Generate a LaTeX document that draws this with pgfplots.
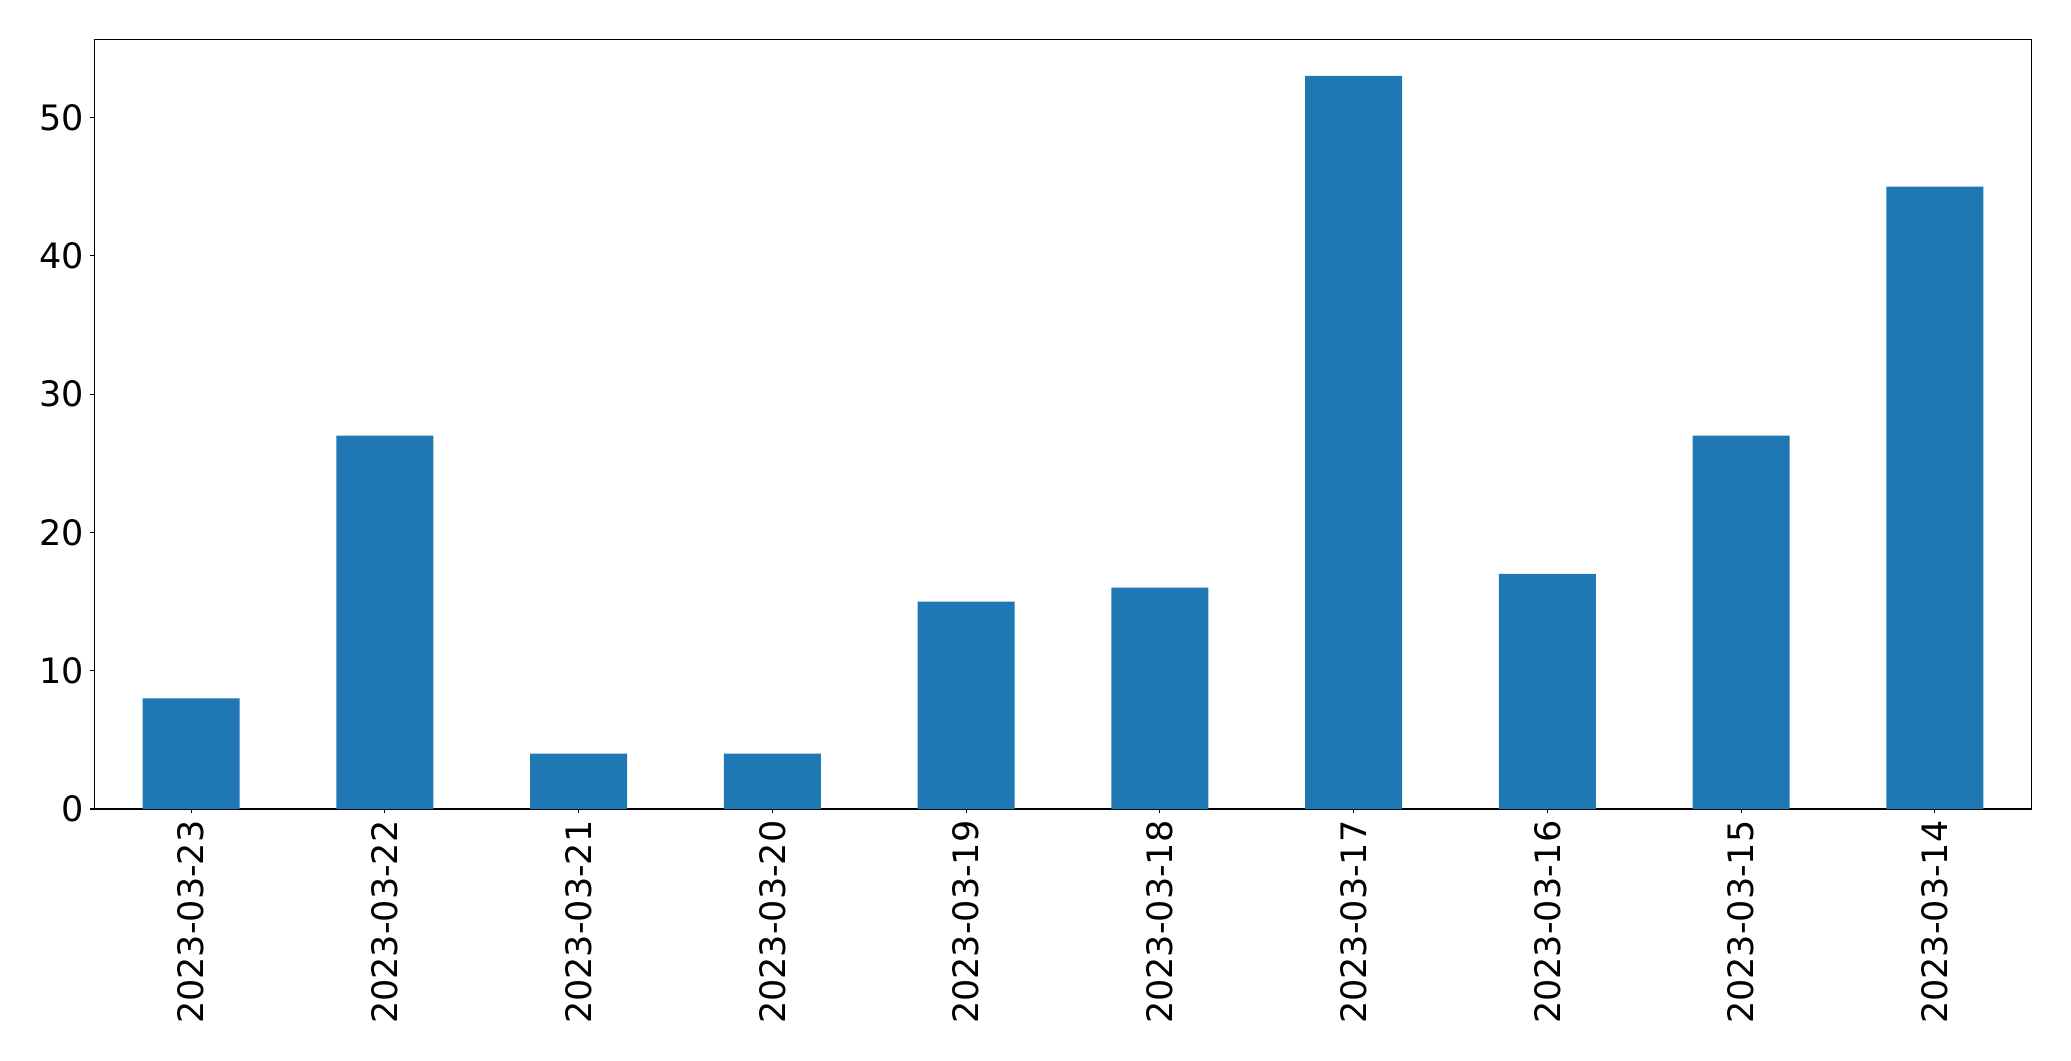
\documentclass[border=0pt]{standalone}
\usepackage{fontspec}
\setmainfont{DejaVu Sans}
\usepackage{pgfplots}
\pgfplotsset{compat=1.18}
\definecolor{mplblue}{HTML}{1F77B4}
\begin{document}
\begin{tikzpicture}
\path[use as bounding box] (-67.9pt,-181.4pt) rectangle (1423.2pt,582.5pt);
\begin{axis}[
  at={(0pt,0pt)}, anchor=south west,
  scale only axis,
  width=1394.9pt, height=554.2pt,
  xmin=-0.5, xmax=9.5, ymin=0, ymax=55.65,
  ybar, bar width=0.5, bar shift=0pt,
  xtick={0,1,2,3,4,5,6,7,8,9},
  xticklabels={2023-03-23,2023-03-22,2023-03-21,2023-03-20,2023-03-19,2023-03-18,2023-03-17,2023-03-16,2023-03-15,2023-03-14},
  ytick={0,10,20,30,40,50},
  xtick pos=bottom, ytick pos=left,
  tick align=outside,
  major tick length=3.2pt,
  every tick/.style={black, line width=0.8pt},
  axis line style={line width=0.8pt},
  /pgf/number format/assume math mode=true,
  tick label style={font=\fontsize{25.2}{30}\selectfont, inner sep=0pt},
  xticklabel style={rotate=90, anchor=east, xshift=-4.8pt},
  yticklabel style={xshift=-4pt},
]
\addplot[fill=mplblue, draw=none] coordinates {
(0,8) (1,27) (2,4) (3,4) (4,15) (5,16) (6,53) (7,17) (8,27) (9,45)
};
\end{axis}
\end{tikzpicture}
\end{document}
